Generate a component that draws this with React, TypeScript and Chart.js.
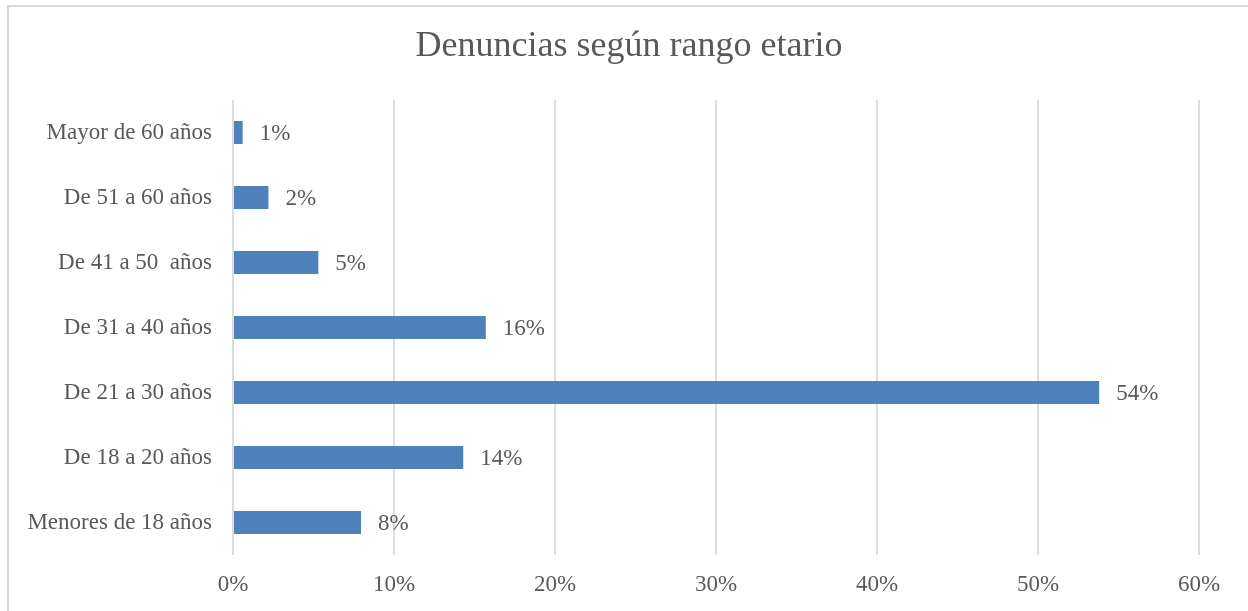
import React, { useEffect, useRef } from "react";
import { Chart, registerables } from "chart.js";

Chart.register(...registerables);

const title = "Denuncias según rango etario";
const categories = [
  "Mayor de 60 años",
  "De 51 a 60 años",
  "De 41 a 50  años",
  "De 31 a 40 años",
  "De 21 a 30 años",
  "De 18 a 20 años",
  "Menores de 18 años",
];
const values = [0.6, 2.2, 5.3, 15.7, 53.8, 14.3, 7.95];
const valueLabels = ["1%", "2%", "5%", "16%", "54%", "14%", "8%"];
const xTicks = [0, 10, 20, 30, 40, 50, 60];

const FONT = "'Liberation Serif', 'DejaVu Serif', serif";
const TEXT = "#595959";

const labelPlugin = {
  id: "barLabels",
  afterDatasetsDraw(chart: any) {
    const ctx = chart.ctx;
    const meta = chart.getDatasetMeta(0);
    ctx.save();
    ctx.font = `23px ${FONT}`;
    ctx.fillStyle = TEXT;
    ctx.textAlign = "left";
    ctx.textBaseline = "middle";
    meta.data.forEach((bar: any, i: number) => {
      ctx.fillText(valueLabels[i], bar.x + 17, bar.y + 1);
    });
    ctx.restore();
  },
};

const titlePlugin = {
  id: "centerTitle",
  afterDraw(chart: any) {
    const ctx = chart.ctx;
    ctx.save();
    ctx.font = `36px ${FONT}`;
    ctx.fillStyle = TEXT;
    ctx.textAlign = "center";
    ctx.textBaseline = "middle";
    ctx.fillText(title, 629, 47);
    ctx.restore();
  },
};

export default function App() {
  const ref = useRef<HTMLCanvasElement | null>(null);
  useEffect(() => {
    document.body.style.overflow = "hidden";
    const chart = new Chart(ref.current!, {
      type: "bar",
      data: {
        labels: categories,
        datasets: [
          {
            data: values,
            backgroundColor: "#4f81bd",
            borderWidth: 0,
            categoryPercentage: 1,
            barPercentage: 0.354,
          },
        ],
      },
      plugins: [labelPlugin, titlePlugin],
      options: {
        indexAxis: "y",
        animation: false,
        responsive: false,
        maintainAspectRatio: false,
        layout: { padding: { left: 0, right: 49, top: 100, bottom: 0 } },
        plugins: {
          legend: { display: false },
          tooltip: { enabled: false },
          title: { display: false },
        },
        scales: {
          x: {
            min: 0,
            max: 60,
            afterBuildTicks: (s: any) => {
              s.ticks = xTicks.map((v) => ({ value: v }));
            },
            afterFit: (s: any) => {
              s.height = 56;
            },
            grid: { color: "#dcdcdc", lineWidth: 2, drawTicks: false },
            border: { display: false },
            ticks: {
              color: TEXT,
              font: { family: FONT, size: 23 },
              padding: 16,
              callback: (v: any) => v + "%",
            },
          },
          y: {
            afterFit: (s: any) => {
              s.width = 233;
            },
            grid: { display: false },
            border: { display: false },
            ticks: {
              color: TEXT,
              font: { family: FONT, size: 23 },
              padding: 13,
            },
          },
        },
      },
    } as any);
    return () => chart.destroy();
  }, []);
  return (
    <>
      <div
        style={{
          position: "fixed",
          left: 7,
          top: 5,
          width: 1300,
          height: 700,
          border: "2px solid #d9d9d9",
          boxSizing: "border-box",
        }}
      />
      <canvas
        ref={ref}
        width={1248}
        height={611}
        style={{ position: "fixed", left: 0, top: 0, width: 1248, height: 611 }}
      />
    </>
  );
}
